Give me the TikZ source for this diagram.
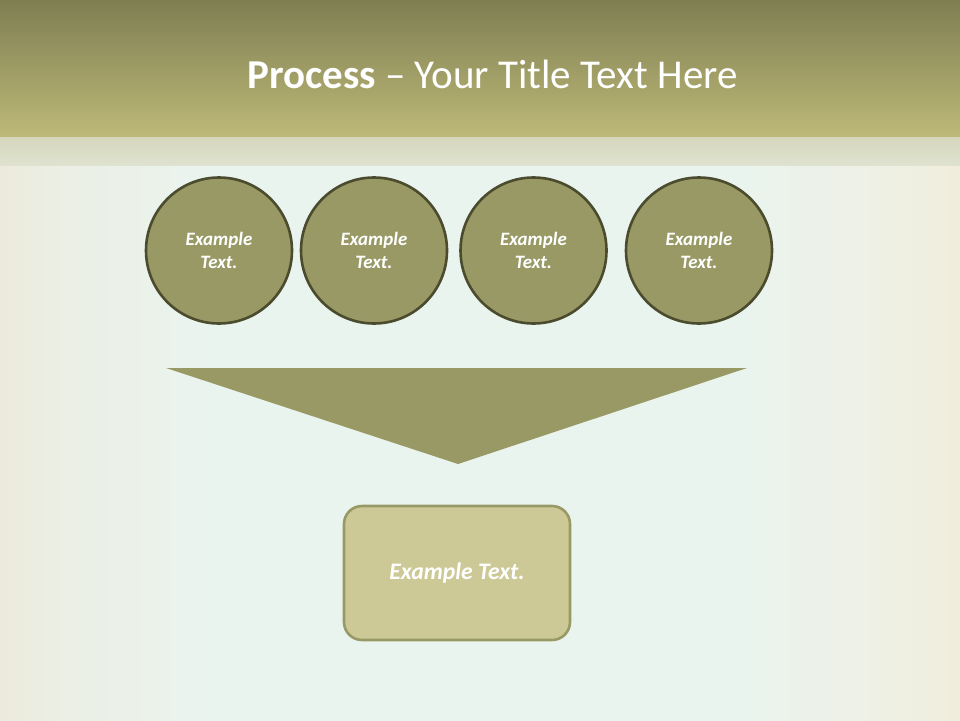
\documentclass[tikz,border=0pt]{standalone}
\usepackage{fontspec}
\setmainfont{Carlito}
\definecolor{hdrtop}{HTML}{7F7E52}
\definecolor{hdrbot}{HTML}{BDB978}
\definecolor{bandtop}{HTML}{D6D6BC}
\definecolor{bandbot}{HTML}{DEE2CF}
\definecolor{bgmid}{HTML}{EAF4EF}
\definecolor{bgleft}{HTML}{ECEADB}
\definecolor{bgright}{HTML}{F1EDDC}
\definecolor{olivefill}{HTML}{999966}
\definecolor{circstroke}{HTML}{4B4B2E}
\definecolor{boxfill}{HTML}{CCC996}
\pgfdeclarehorizontalshading{bgshade}{100bp}{color(0bp)=(bgleft); color(25bp)=(bgleft); color(28bp)=(bgleft!55!bgmid); color(36bp)=(bgmid); color(63bp)=(bgmid); color(71bp)=(bgright!55!bgmid); color(75bp)=(bgright); color(100bp)=(bgright)}
\begin{document}
\begin{tikzpicture}[x=1pt,y=-1pt,
  circ/.style={circle, draw=circstroke, line width=2.6pt, fill=olivefill,
    minimum size=146pt, inner sep=0pt, align=center, text=white,
    font=\fontsize{18.9}{23}\selectfont\bfseries\itshape},
  resultbox/.style={draw=olivefill, fill=boxfill, line width=2.6pt,
    rounded corners=18pt, minimum width=226pt, minimum height=134pt,
    text=white, font=\fontsize{23.7}{28}\selectfont\bfseries\itshape},
  titletext/.style={text=white, font=\fontsize{41}{48}\selectfont, anchor=base}]
\useasboundingbox (0,0) rectangle (960,720);
% background
\shade[shading=bgshade] (0,0) rectangle (960,720);
% header
\shade[top color=hdrtop, bottom color=hdrbot] (0,0) rectangle (960,137);
\shade[top color=bandtop, bottom color=bandbot] (0,137) rectangle (960,165);
\node[titletext] (title) at (492.5,88) {\textbf{Process} – Your Title Text Here};
% circles
\node[circ] (c1) at (219,250.5) {Example\\Text.};
\node[circ] (c2) at (374,250.5) {Example\\Text.};
\node[circ] (c3) at (533.5,250.5) {Example\\Text.};
\node[circ] (c4) at (699,250.5) {Example\\Text.};
% funnel triangle
\coordinate (tl) at (166,368);
\coordinate (tr) at (747,368);
\coordinate (tp) at (458,464);
\fill[olivefill] (tl) -- (tr) -- (tp) -- cycle;
% result box
\node[resultbox] (res) at (457,573) {Example Text.};
\end{tikzpicture}
\end{document}
